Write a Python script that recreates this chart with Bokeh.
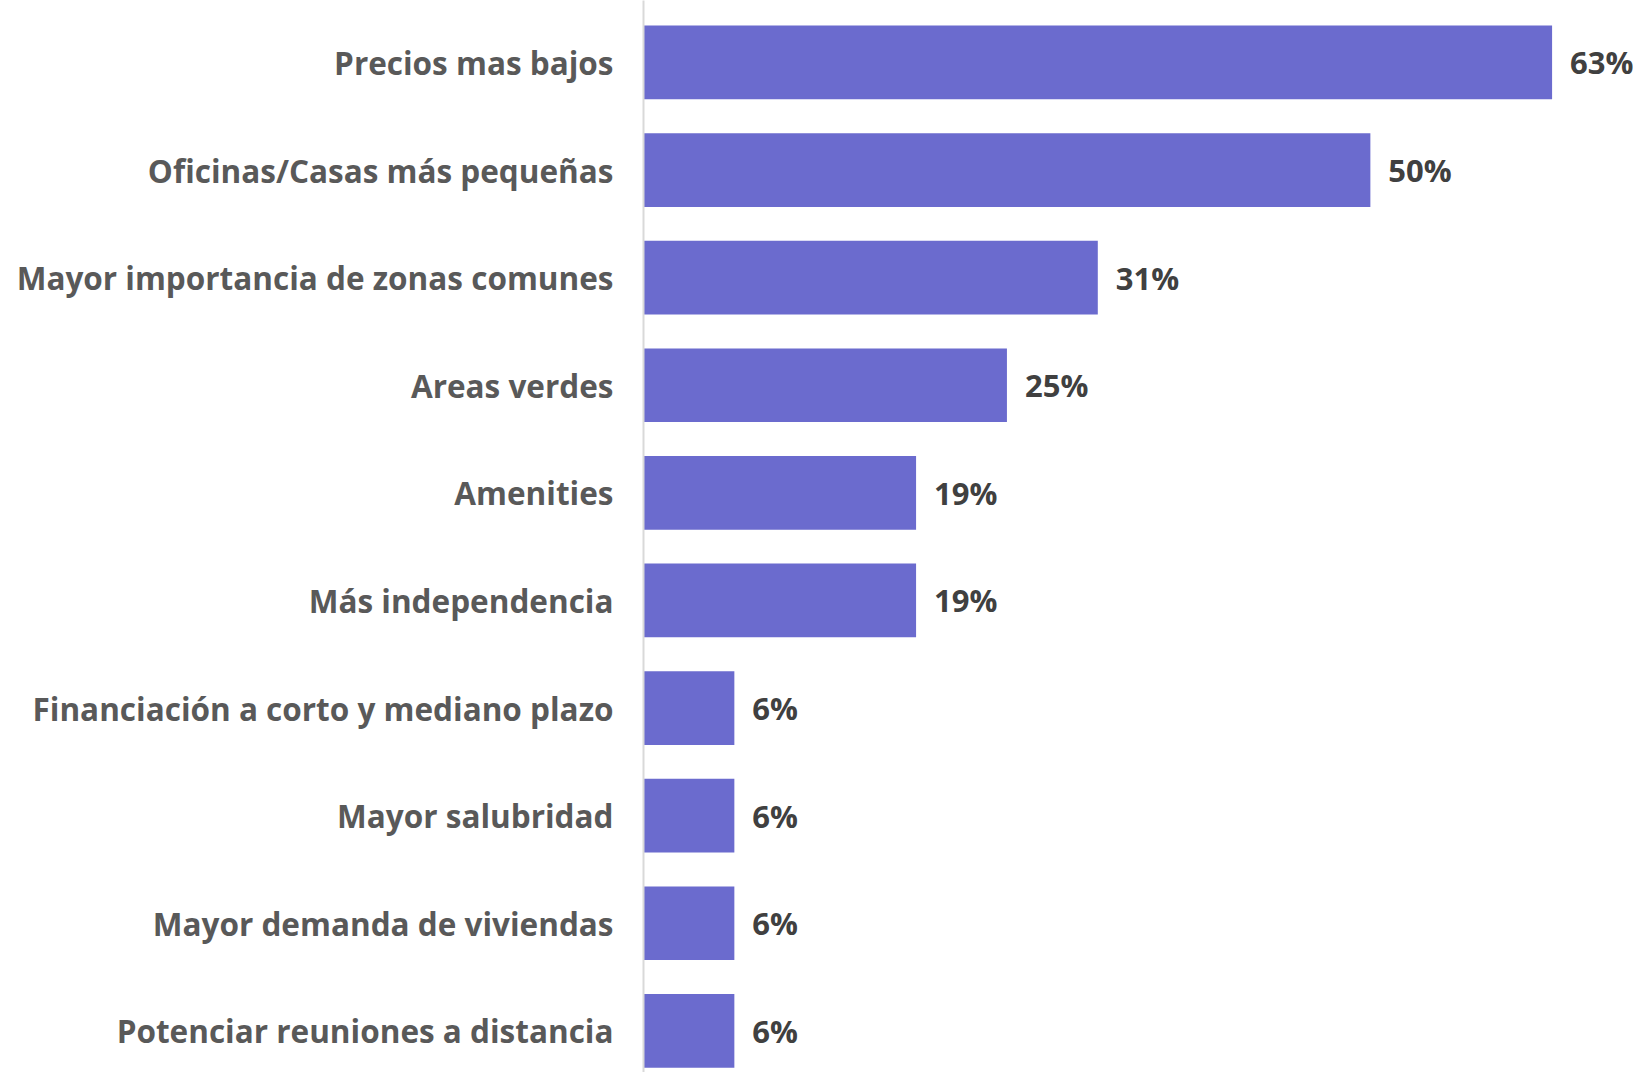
from bokeh.plotting import figure
from bokeh.models import ColumnDataSource, Range1d, FixedTicker
from bokeh.core.properties import value
from bokeh.embed import file_html
from bokeh.resources import INLINE

categories = [
    "Precios mas bajos",
    "Oficinas/Casas más pequeñas",
    "Mayor importancia de zonas comunes",
    "Areas verdes",
    "Amenities",
    "Más independencia",
    "Financiación a corto y mediano plazo",
    "Mayor salubridad",
    "Mayor demanda de viviendas",
    "Potenciar reuniones a distancia",
]
values = [62.5, 50.0, 31.25, 25.0, 18.75, 18.75, 6.25, 6.25, 6.25, 6.25]
value_labels = ["63%", "50%", "31%", "25%", "19%", "19%", "6%", "6%", "6%", "6%"]

pos = list(range(len(categories)))
src = ColumnDataSource(dict(y=pos, v=values, lab=value_labels))

FONT = "Open Sans"

p = figure(
    width=1633, height=1072,
    x_range=Range1d(0, 68.1),
    y_range=Range1d(9.387, -0.576),
    output_backend="svg", toolbar_location=None,
    x_axis_location=None,
    min_border_left=643, min_border_right=0, min_border_top=0, min_border_bottom=0,
)
p.outline_line_color = None
p.xgrid.visible = False
p.ygrid.visible = False
p.background_fill_color = "white"
p.border_fill_color = "white"

p.hbar(y="y", right="v", left=0, height=0.685, source=src,
       fill_color="#6B6BCE", line_color=None)

p.text(x="v", y="y", text="lab", source=src, x_offset=18,
       text_align="left", text_baseline="middle",
       text_font=value(FONT), text_font_style="bold", text_font_size="31px",
       text_color="#404040")

ax = p.yaxis[0]
ax.ticker = FixedTicker(ticks=pos)
ax.major_label_overrides = {i: c for i, c in zip(pos, categories)}
ax.major_tick_line_color = None
ax.minor_tick_line_color = None
ax.axis_line_color = "#D9D9D9"
ax.axis_line_width = 2
ax.major_label_standoff = 24
ax.major_label_text_font = FONT
ax.major_label_text_font_style = "bold"
ax.major_label_text_font_size = "31.5px"
ax.major_label_text_color = "#595959"

open("out.html", "w").write(file_html(p, INLINE))
